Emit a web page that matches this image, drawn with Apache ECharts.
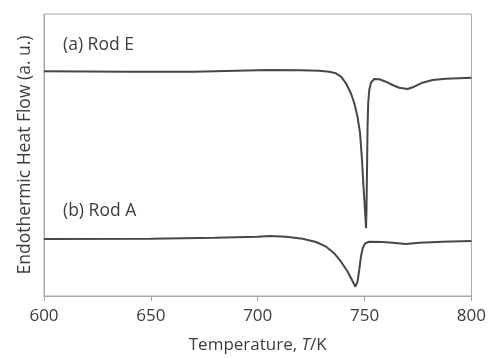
<!DOCTYPE html>
<html>
<head>
<meta charset="utf-8">
<script src="https://cdn.jsdelivr.net/npm/echarts@6/dist/echarts.min.js"></script>
<style>html,body{margin:0;padding:0;background:#fff;}#c{width:489px;height:359px;}</style>
</head>
<body>
<div id="c"></div>
<script>
// Temperature (K) and endothermic heat flow (arbitrary units)
const rodE_T = [600,640,670,690,705,720,728.8,733.5,736.6,739.0,741.3,743.6,745.2,746.7,747.9,748.8,749.5,750.2,750.7,750.9,751.1,751.4,751.7,752.2,753.0,754.5,756.9,760.0,763.1,766.2,770.1,773.2,777.1,781.8,788.0,800];
const rodE_Q = [224.7,224.3,224.3,225.3,226,225.7,225.3,224.3,222.7,219.3,212.7,202.7,192.7,179.3,162.7,136,109.3,86,67.7,86,119.3,169.3,192.7,206,213.3,217,216.7,214.3,211,208.3,207,209.3,213.3,216,217.3,218.3];
const rodA_T = [600,650,680,700,705.5,713.3,721.0,727.3,732.0,735.8,739.0,742.1,744.1,745.7,746.7,747.5,748.3,749.1,750.3,752.2,758.4,763.1,769.3,775.6,786.5,800];
const rodA_Q = [57,57.3,58.3,59.3,60,59.3,57.3,54,49.3,42.7,34.3,24.3,16,9.3,14.3,26,39.3,47.7,52.7,54.3,54,53.3,52,53.3,54.3,55];
const xTicks = [600,650,700,750,800];
const seriesNames = ['(a) Rod E','(b) Rod A'];

const pair = (xs, ys) => xs.map((x, i) => [x, ys[i]]);
const FONT = 'Open Sans';
const TXT = '#3c3c3c';
const AX = '#a6a6a6';

const chart = echarts.init(document.getElementById('c'), null, {renderer: 'canvas'});
chart.setOption({
  animation: false,
  backgroundColor: '#fff',
  grid: {left: 44, right: 17, top: 14, bottom: 63, show: true, borderColor: AX, borderWidth: 1},
  xAxis: {
    type: 'value', min: xTicks[0], max: xTicks[xTicks.length-1], interval: 50,
    splitLine: {show: false},
    axisLine: {lineStyle: {color: AX, width: 1}},
    axisTick: {show: true, inside: false, length: 5, lineStyle: {color: AX}},
    axisLabel: {color: TXT, fontFamily: FONT, fontSize: 17, margin: 12, showMaxLabel: true},
    name: '{n|Temperature, }{i|T}{n|/K}',
    nameLocation: 'middle', nameGap: 41,
    nameTextStyle: {
      rich: {
        n: {fontFamily: FONT, fontSize: 17, color: TXT},
        i: {fontFamily: FONT, fontSize: 17, color: TXT, fontStyle: 'italic'}
      }
    }
  },
  yAxis: {
    type: 'value', min: 0, max: 282,
    splitLine: {show: false},
    axisLine: {show: true, lineStyle: {color: AX, width: 1}},
    axisTick: {show: false},
    axisLabel: {show: false},
    name: 'Endothermic Heat Flow (a. u.)',
    nameLocation: 'middle', nameRotate: 90, nameGap: 10,
    nameTextStyle: {fontFamily: FONT, fontSize: 17.5, color: TXT}
  },
  graphic: [
    {type: 'text', left: 63, top: 36, style: {text: seriesNames[0], font: '17.5px "Open Sans"', fill: TXT}},
    {type: 'text', left: 63, top: 202, style: {text: seriesNames[1], font: '17.5px "Open Sans"', fill: TXT}}
  ],
  series: [
    {name: seriesNames[0], type: 'line', data: pair(rodE_T, rodE_Q), showSymbol: false, smooth: false,
     lineStyle: {color: '#474747', width: 2}},
    {name: seriesNames[1], type: 'line', data: pair(rodA_T, rodA_Q), showSymbol: false, smooth: false,
     lineStyle: {color: '#474747', width: 2}}
  ]
});
</script>
</body>
</html>
